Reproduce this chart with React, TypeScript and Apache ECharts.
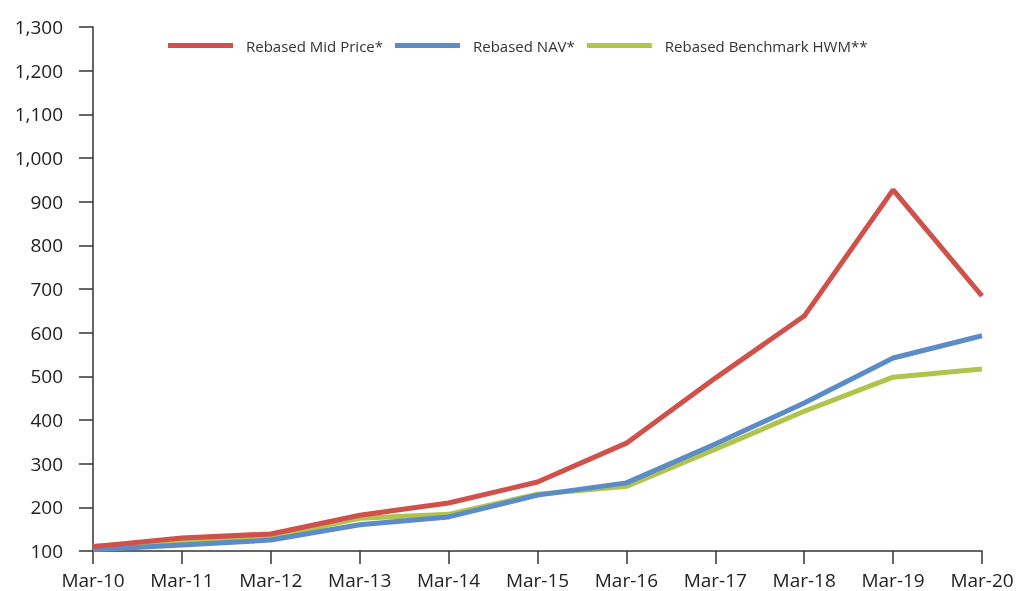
import React, { useEffect, useRef } from "react";
import * as echarts from "echarts";

const categories = ["Mar-10", "Mar-11", "Mar-12", "Mar-13", "Mar-14", "Mar-15", "Mar-16", "Mar-17", "Mar-18", "Mar-19", "Mar-20"];
const midPrice = [110, 130, 139, 182, 210, 258, 347, 496, 638, 927, 684];
const nav = [103, 114, 125, 160, 178, 228, 256, 345, 439, 542, 593];
const hwm = [111, 123, 132, 175, 184, 230, 248, 333, 420, 498, 517];
const seriesNames = ["Rebased Mid Price*", "Rebased NAV*", "Rebased Benchmark HWM**"];
const colors = ["#d0504a", "#5b8cc8", "#aec44a"];

export default function App() {
  const ref = useRef<HTMLDivElement>(null);
  useEffect(() => {
    if (!ref.current) return;
    const chart = echarts.init(ref.current, null, { renderer: "svg" });
    const font = "'Open Sans', 'Noto Sans', sans-serif";
    const data = [midPrice, nav, hwm];
    chart.setOption({
      animation: false,
      textStyle: { fontFamily: font },
      grid: { left: 93, right: 39, top: 27, bottom: 40, containLabel: false },
      legend: {
        left: 168,
        top: 38,
        padding: 0,
        icon: "rect",
        itemWidth: 65,
        itemHeight: 5,
        itemGap: 12,
        textStyle: { fontSize: 15, color: "#333", fontFamily: font, padding: [0, 0, 0, 8] },
        data: seriesNames,
      },
      xAxis: {
        type: "category",
        data: categories,
        boundaryGap: false,
        axisLine: { lineStyle: { color: "#333", width: 1.5 } },
        axisTick: { length: 13, lineStyle: { color: "#333", width: 1.5 } },
        axisLabel: { fontSize: 19, lineHeight: 19, color: "#222", margin: 19, fontFamily: font },
        splitLine: { show: false },
      },
      yAxis: {
        type: "value",
        min: 100,
        max: 1300,
        interval: 100,
        axisLine: { show: true, lineStyle: { color: "#333", width: 1.5 } },
        axisTick: { show: true, length: 14, lineStyle: { color: "#333", width: 1.5 } },
        axisLabel: {
          fontSize: 19,
          color: "#222",
          margin: 30,
          fontFamily: font,
          formatter: (v: number) => v.toLocaleString("en-US"),
        },
        splitLine: { show: false },
      },
      series: seriesNames.map((name, i) => ({
        name,
        type: "line",
        data: data[i],
        symbol: "none",
        lineStyle: { color: colors[i], width: 5 },
        itemStyle: { color: colors[i] },
        z: 3 - i,
      })),
    });
    return () => chart.dispose();
  }, []);
  return (
    <div
      ref={ref}
      style={{ position: "fixed", left: 0, top: 0, width: 1021, height: 591 }}
    />
  );
}
